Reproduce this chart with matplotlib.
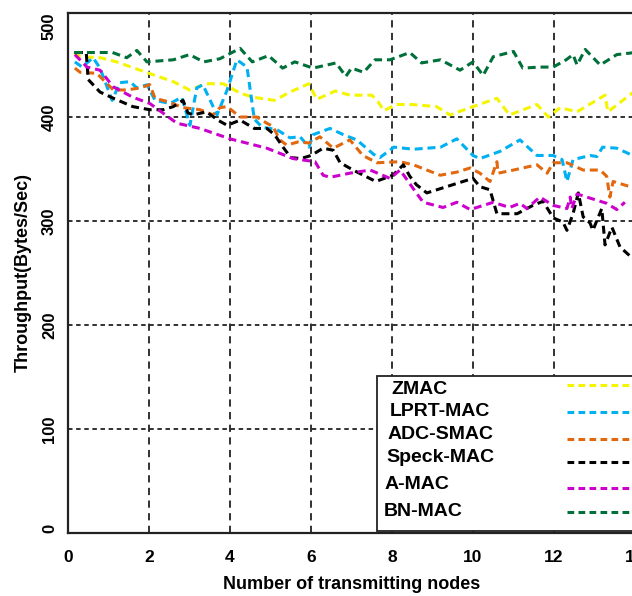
import matplotlib
matplotlib.use("Agg")
import matplotlib.pyplot as plt
from matplotlib.patches import Rectangle

# values
zmac_x = [0.15, 0.3, 0.8, 1.2, 2.0, 2.6, 3.0, 3.42, 3.83, 4.25, 4.57, 5.1, 5.48, 5.95, 6.14, 6.6, 6.96,
          7.5, 7.65, 7.8, 8.1, 8.5, 9.1, 9.43, 10.0, 10.59, 10.9, 11.58, 11.86, 12.15, 12.57, 13.26, 13.33, 14.0]
zmac_y = [462, 458, 457, 453, 442, 434, 426, 432, 432, 423, 419, 416, 424, 432, 417, 425, 421,
          421, 415, 406, 412, 412, 410, 402, 410, 418, 402, 412, 400, 409, 405, 421, 405, 425]

lprt_x = [0.17, 0.35, 0.62, 0.79, 1.09, 1.28, 1.53, 1.7, 1.95, 2.15, 2.52, 2.81, 3.01, 3.18, 3.33, 3.68,
          3.93, 4.17, 4.42, 4.6, 4.8, 5.15, 5.48, 5.73, 5.95, 6.05, 6.47, 6.8, 7.13, 7.55, 7.7, 8.05, 8.53,
          9.2, 9.6, 10.0, 10.17, 10.67, 11.16, 11.58, 11.98, 12.2, 12.32, 12.47, 12.89, 13.06, 13.2, 13.55, 14.0]
lprt_y = [453, 448, 457, 447, 416, 433, 434, 428, 431, 416, 413, 419, 392, 428, 431, 402,
          426, 455, 448, 398, 390, 388, 380, 381, 371, 383, 389, 383, 378, 364, 361, 371, 369,
          371, 379, 363, 360, 367, 378, 363, 363, 359, 338, 359, 363, 362, 371, 370, 362]

adc_x = [0.17, 0.3, 0.71, 1.12, 1.45, 1.78, 2.02, 2.15, 2.44, 2.84, 3.26, 3.58, 3.75, 3.93, 4.25, 4.66,
         4.91, 5.06, 5.23, 5.4, 5.68, 5.95, 6.22, 6.55, 6.96, 7.28, 7.63, 8.2, 8.53, 9.19, 9.6, 9.93,
         10.17, 10.42, 10.59, 10.62, 11.0, 11.58, 11.83, 11.98, 12.32, 12.72, 13.14, 13.3, 13.38, 13.46, 13.88, 14.0]
adc_y = [447, 443, 442, 426, 426, 428, 431, 418, 415, 409, 407, 402, 409, 410, 400, 400,
         394, 391, 378, 373, 376, 375, 381, 370, 378, 363, 356, 357, 354, 344, 347, 351,
         346, 338, 357, 346, 349, 354, 346, 356, 356, 349, 349, 343, 323, 338, 333, 332]

speck_x = [0.17, 0.45, 0.5, 0.79, 1.12, 1.6, 2.02, 2.35, 2.6, 2.84, 2.96, 3.09, 3.42, 3.7, 3.93, 4.25,
           4.6, 4.91, 5.1, 5.31, 5.5, 5.75, 6.0, 6.3, 6.55, 6.72, 7.04, 7.6, 8.02, 8.28, 8.44, 8.6, 8.86,
           9.51, 10.0, 10.17, 10.42, 10.59, 11.09, 11.48, 11.73, 11.98, 12.22, 12.32, 12.47, 12.6, 12.72,
           12.89, 12.96, 13.18, 13.26, 13.43, 13.63, 14.0]
speck_y = [462, 462, 436, 424, 418, 410, 407, 407, 410, 416, 404, 402, 405, 397, 392, 397,
           389, 389, 383, 371, 361, 360, 363, 370, 368, 356, 349, 338, 344, 354, 343, 335, 327,
           335, 341, 333, 330, 307, 307, 315, 319, 303, 299, 291, 307, 327, 304,
           298, 291, 312, 277, 294, 275, 262]

amac_x = [0.17, 0.47, 0.79, 1.12, 1.6, 2.02, 2.69, 3.26, 4.0, 4.91, 5.56, 6.1, 6.3, 6.47, 6.96, 7.46,
          7.95, 8.2, 8.6, 8.77, 9.26, 9.6, 9.93, 10.5, 10.9, 11.16, 11.33, 11.65, 11.98, 12.32, 12.4,
          12.44, 12.57, 12.89, 13.3, 13.55, 13.75]
amac_y = [460, 448, 445, 429, 419, 413, 394, 389, 379, 370, 360, 357, 344, 342, 346, 349,
          341, 349, 327, 318, 313, 318, 311, 318, 313, 317, 312, 323, 315, 312, 323,
          312, 326, 322, 317, 311, 318]

bn_x = [0.15, 0.6, 1.1, 1.45, 1.7, 1.95, 2.6, 3.0, 3.35, 3.75, 4.25, 4.55, 4.95, 5.3, 5.6, 6.05, 6.62,
        6.86, 7.0, 7.3, 7.58, 7.95, 8.44, 8.73, 9.2, 9.68, 10.0, 10.25, 10.5, 11.0, 11.23, 11.65, 11.98,
        12.3, 12.47, 12.57, 12.77, 13.14, 13.55, 14.0]
bn_y = [462, 462, 462, 457, 464, 453, 455, 460, 453, 456, 466, 453, 459, 447, 453, 447, 452,
        439, 447, 443, 455, 455, 462, 452, 455, 445, 453, 440, 458, 463, 447, 448, 448,
        455, 460, 450, 465, 450, 460, 462]

names = ["ZMAC", "LPRT-MAC", "ADC-SMAC", "Speck-MAC", "A-MAC", "BN-MAC"]
xs = [zmac_x, lprt_x, adc_x, speck_x, amac_x, bn_x]
ys = [zmac_y, lprt_y, adc_y, speck_y, amac_y, bn_y]
colors = ["#F5F500", "#00B0F0", "#E2680F", "#000000", "#CC00CC", "#00703A"]

x_ticks = [0, 2, 4, 6, 8, 10, 12, 14]
y_ticks = [0, 100, 200, 300, 400, 500]

plt.rcParams['font.family'] = ['Liberation Sans', 'DejaVu Sans']
plt.rcParams['font.weight'] = 'bold'

fig = plt.figure(figsize=(6.32, 5.96), dpi=100)
ax = fig.add_axes([68 / 632, 63 / 596, 567 / 632, 520 / 596])

for x, y, c in zip(xs, ys, colors):
    ax.plot(x, y, color=c, linewidth=2.2, dashes=(2.6, 1.6))

ax.set_xlim(0, 14)
ax.set_ylim(0, 500)
ax.set_xticks(x_ticks)
ax.set_yticks(y_ticks)
ax.tick_params(length=0, labelsize=12)
ax.tick_params(axis='x', pad=12, labelsize=12.5)
ax.tick_params(axis='y', pad=8)
for lab in ax.get_yticklabels():
    lab.set_rotation(90)
    lab.set_va('center')
ylabs = ax.get_yticklabels()
ylabs[0].set_va('bottom')
ylabs[-1].set_va('top')

for v in y_ticks[1:-1]:
    ax.axhline(v, color='#222222', linewidth=1.3, dashes=(2.5, 2), zorder=0)
for v in x_ticks[1:-1]:
    ax.axvline(v, color='#222222', linewidth=1.3, dashes=(4, 3), zorder=0)

for s in ax.spines.values():
    s.set_linewidth(1.6)
    s.set_color('#222222')

ax.set_xlabel("Number of transmitting nodes", fontsize=13, fontweight='bold', labelpad=8)
ax.set_ylabel("Throughput(Bytes/Sec)", fontsize=13, fontweight='bold', labelpad=7)

# legend box drawn by hand: labels at left, line samples at right
ax.add_patch(Rectangle((0.545, 0.004), 0.455, 0.298, transform=ax.transAxes,
                       facecolor='white', edgecolor='#222222', linewidth=1.3, zorder=5))
text_x = [0.570, 0.568, 0.564, 0.561, 0.559, 0.557]
text_y = [0.275, 0.233, 0.190, 0.146, 0.094, 0.042]
line_y = [0.285, 0.233, 0.181, 0.137, 0.087, 0.040]
for name, c, tx, ty, ly in zip(names, colors, text_x, text_y, line_y):
    ax.text(tx, ty, name, transform=ax.transAxes, fontsize=14, fontweight='bold',
            va='center', ha='left', zorder=6)
    ax.plot([0.88, 1.0], [ly, ly], transform=ax.transAxes, color=c, linewidth=2.2,
            dashes=(2.2, 1.4), zorder=6, clip_on=False)

fig.savefig("out.png", dpi=100)
